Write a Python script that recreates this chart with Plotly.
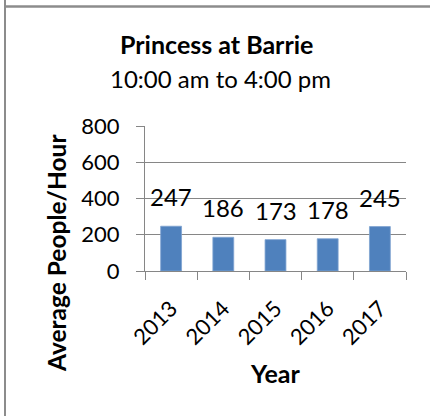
import plotly.graph_objects as go

years = ["2013", "2014", "2015", "2016", "2017"]
people = [247, 186, 173, 178, 245]
y_ticks = [0, 200, 400, 600, 800]

W, H = 430, 416
L, R, T, B = 145, 24, 126, 145
PW, PH = W - L - R, H - T - B

def px(x):
    return (x - L) / PW

def py(y):
    return (H - B - y) / PH

FONT = "Lato"
GRID = "#868686"

fig = go.Figure()
fig.add_trace(go.Bar(
    x=years, y=people,
    marker=dict(color="#4F81BD", line=dict(color="#7FA3D0", width=0.8)),
    width=0.4,
))

for i, v in enumerate(people):
    fig.add_annotation(x=i, y=v, xref="x", yref="y", text=str(v),
                       showarrow=False, yanchor="bottom", yshift=13,
                       font=dict(family=FONT, size=24, color="black"))

fig.add_annotation(x=px(216), y=py(44), xref="paper", yref="paper",
                   text="<b>Princess at Barrie</b>", showarrow=False,
                   xanchor="center", yanchor="middle",
                   font=dict(family=FONT, size=25, color="black"))
fig.add_annotation(x=px(220), y=py(78), xref="paper", yref="paper",
                   text="10:00 am to 4:00 pm", showarrow=False,
                   xanchor="center", yanchor="middle",
                   font=dict(family=FONT, size=24, color="black"))
fig.add_annotation(x=px(56), y=py(253), xref="paper", yref="paper",
                   text="<b>Average People/Hour</b>", showarrow=False,
                   textangle=-90, xanchor="center", yanchor="middle",
                   font=dict(family=FONT, size=24.5, color="black"))
fig.add_annotation(x=px(275), y=py(373), xref="paper", yref="paper",
                   text="<b>Year</b>", showarrow=False,
                   xanchor="center", yanchor="middle",
                   font=dict(family=FONT, size=25, color="black"))

# frame lines (cell border)
fig.add_shape(type="line", xref="paper", yref="paper",
              x0=px(5), x1=px(5), y0=py(0), y1=py(H),
              line=dict(color="#8c8c8c", width=2))
fig.add_shape(type="line", xref="paper", yref="paper",
              x0=px(5), x1=px(W), y0=py(6.5), y1=py(6.5),
              line=dict(color="#8c8c8c", width=2.5))

fig.update_layout(
    width=W, height=H,
    margin=dict(l=L, r=R, t=T, b=B),
    paper_bgcolor="white", plot_bgcolor="white",
    showlegend=False,
    font=dict(family=FONT, size=22, color="black"),
)
fig.update_xaxes(
    type="category", range=[-0.5, 4.5], tickangle=-45, tickson="boundaries",
    ticks="outside", ticklen=8, tickcolor=GRID, tickwidth=1,
    showline=True, linecolor=GRID, linewidth=1, ticklabelstandoff=15,
    showgrid=False, tickfont=dict(family=FONT, size=22),
)
fig.update_yaxes(
    range=[0, 800], tickvals=y_ticks, ticktext=[str(t) for t in y_ticks],
    ticks="outside", ticklen=8, tickcolor=GRID, tickwidth=1,
    showline=True, linecolor=GRID, linewidth=1, ticklabelstandoff=12,
    showgrid=True, gridcolor=GRID, gridwidth=1, zeroline=False,
    tickfont=dict(family=FONT, size=22),
)

fig.write_html("out.html", config={"displayModeBar": False},
               post_script="document.body.style.margin='0';document.body.style.padding='0';")
